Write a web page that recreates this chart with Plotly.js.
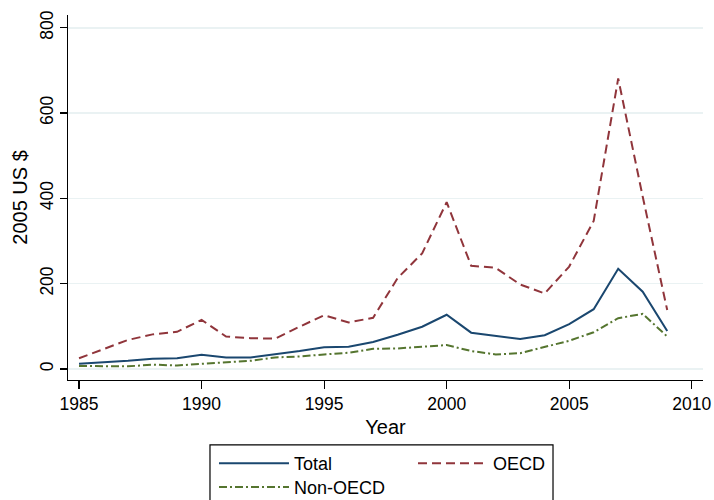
<!DOCTYPE html>
<html>
<head>
<meta charset="utf-8">
<script src="https://cdn.plot.ly/plotly-3.0.1.min.js"></script>
<style>html,body{margin:0;padding:0;background:#fff}#chart{width:714px;height:500px}</style>
</head>
<body>
<div id="chart"></div>
<script>
var years = [1985,1986,1987,1988,1989,1990,1991,1992,1993,1994,1995,1996,1997,1998,1999,2000,2001,2002,2003,2004,2005,2006,2007,2008,2009];
var total = [12,15,19,24,25,33,27,27,34,42,51,52,63,80,99,127,85,77,70,79,105,140,235,181,89];
var oecd = [25,46,68,81,87,115,76,72,71,99,126,109,120,213,271,391,242,237,198,177,240,347,681,404,138];
var nonOecd = [7,6,6,10,8,12,16,19,27,29,34,38,47,48,52,56,42,34,37,52,66,86,119,129,76];
var yTicks = [0,200,400,600,800];
var xTicks = [1985,1990,1995,2000,2005,2010];

var FONT = 'Liberation Sans, Arial, Helvetica, sans-serif';
var traces = [
  {x: years, y: total, name: 'Total', type: 'scatter', mode: 'lines',
   line: {color: '#1a476f', width: 2}, legend: 'legend'},
  {x: years, y: oecd, name: 'OECD', type: 'scatter', mode: 'lines',
   line: {color: '#90353b', width: 2, dash: '9px,5px'}, legend: 'legend2'},
  {x: years, y: nonOecd, name: 'Non-OECD', type: 'scatter', mode: 'lines',
   line: {color: '#55752f', width: 2, dash: '8px,3px,2px,3px'}, legend: 'legend3'}
];

var legendCommon = {
  orientation: 'v', xanchor: 'left', yanchor: 'top',
  font: {family: FONT, size: 18, color: '#000'},
  bgcolor: 'rgba(0,0,0,0)', borderwidth: 0,
  itemwidth: 70
};

var layout = {
  width: 714, height: 500,
  margin: {l: 68, r: 11, t: 15, b: 120, autoexpand: false},
  paper_bgcolor: '#fff', plot_bgcolor: '#fff',
  font: {family: FONT, color: '#000'},
  showlegend: true,
  xaxis: {
    range: [1984.55, 2010.46],
    tickvals: xTicks, ticktext: xTicks.map(String),
    showgrid: false, zeroline: false,
    showline: true, linecolor: '#000', linewidth: 1.2,
    ticks: 'outside', ticklen: 8, tickwidth: 1.2, tickcolor: '#000',
    tickfont: {family: FONT, size: 17.5, color: '#000'},
    title: {text: 'Year', font: {family: FONT, size: 20, color: '#000'}, standoff: 6}
  },
  yaxis: {
    range: [-26, 830],
    tickvals: yTicks, ticktext: yTicks.map(String),
    tickangle: -90,
    showgrid: true, gridcolor: '#eaf2f3', gridwidth: 1.5,
    zeroline: false,
    showline: true, linecolor: '#000', linewidth: 1.2,
    ticks: 'outside', ticklen: 7, tickwidth: 1.2, tickcolor: '#000',
    tickfont: {family: FONT, size: 17.5, color: '#000'},
    title: {text: '2005 US $', font: {family: FONT, size: 20, color: '#000'}, standoff: 3}
  },
  legend: Object.assign({}, legendCommon, {x: 0.2299, y: -0.178}),
  legend2: Object.assign({}, legendCommon, {x: 0.5433, y: -0.178}),
  legend3: Object.assign({}, legendCommon, {x: 0.2299, y: -0.243}),
  shapes: [{
    type: 'rect', xref: 'paper', yref: 'paper',
    x0: 0.2236, x1: 0.7638, y0: -0.36, y1: -0.178,
    line: {color: '#000', width: 1.2}, fillcolor: 'rgba(0,0,0,0)'
  }]
};

Plotly.newPlot('chart', traces, layout, {displayModeBar: false, staticPlot: true});
</script>
</body>
</html>
